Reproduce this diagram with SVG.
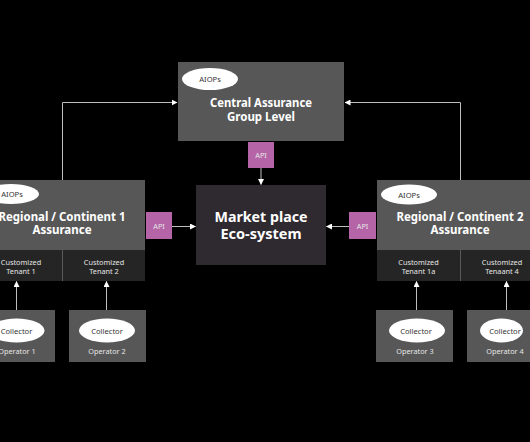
<svg xmlns="http://www.w3.org/2000/svg" width="530" height="442" viewBox="0 0 530 442">
  <style>
    .box{fill:#575757}
    .strip{fill:#252525}
    .api{fill:#b565a7}
    .ell{fill:#ffffff}
    .title{font-family:"Noto Sans","Open Sans",sans-serif;font-weight:bold;fill:#ffffff;text-anchor:middle}
    .small{font-family:"Noto Sans","Open Sans",sans-serif;fill:#e6e6e6;text-anchor:middle;font-size:7.3px}
    .dark{font-family:"Noto Sans","Open Sans",sans-serif;fill:#333333;text-anchor:middle;font-size:7.6px}
    .conn{stroke:#bdbdbd;stroke-width:1;fill:none}
  </style>
  <defs>
    <marker id="arr" markerWidth="6" markerHeight="6" refX="5.5" refY="3" orient="auto" markerUnits="userSpaceOnUse">
      <path d="M0,0 L6,3 L0,6 Z" fill="#ffffff"/>
    </marker>
  </defs>
  <rect width="530" height="442" fill="#000000"/>

  <g id="connectors">
    <polyline class="conn" points="62.5,180 62.5,102.5 177,102.5" marker-end="url(#arr)"/>
    <polyline class="conn" points="460.5,180 460.5,102.5 345,102.5" marker-end="url(#arr)"/>
    <line class="conn" x1="261" y1="168" x2="261" y2="184.5" marker-end="url(#arr)"/>
    <line class="conn" x1="172" y1="226.5" x2="195.5" y2="226.5" marker-end="url(#arr)"/>
    <line class="conn" x1="349" y1="226.5" x2="326.5" y2="226.5" marker-end="url(#arr)"/>
    <line class="conn" x1="16.5" y1="318.5" x2="16.5" y2="281.5" marker-end="url(#arr)"/>
    <line class="conn" x1="106.5" y1="318.5" x2="106.5" y2="281.5" marker-end="url(#arr)"/>
    <line class="conn" x1="416.5" y1="318.5" x2="416.5" y2="281.5" marker-end="url(#arr)"/>
    <line class="conn" x1="506.5" y1="318.5" x2="506.5" y2="281.5" marker-end="url(#arr)"/>
  </g>

  <g id="central">
    <rect class="box" x="178" y="62" width="166" height="79"/>
    <ellipse class="ell" cx="210" cy="79" rx="28" ry="11"/>
    <text class="dark" x="210" y="82">AIOPs</text>
    <text class="title" x="261" y="107" font-size="11.5" textLength="102" lengthAdjust="spacingAndGlyphs">Central Assurance</text>
    <text class="title" x="261" y="120.5" font-size="11.5">Group Level</text>
  </g>
  <g id="api-central">
    <rect class="api" x="248" y="142" width="26" height="26"/>
    <text class="small" x="261" y="158" font-size="7">API</text>
  </g>

  <g id="marketplace">
    <rect x="196" y="185" width="130" height="80" fill="#2e2a30"/>
    <text class="title" x="261" y="222" font-size="14.5" textLength="93" lengthAdjust="spacingAndGlyphs">Market place</text>
    <text class="title" x="261" y="239" font-size="14.5">Eco-system</text>
  </g>

  <g id="regional1">
    <rect class="box" x="-20" y="180" width="165" height="70"/>
    <rect class="strip" x="-20" y="250" width="165" height="31"/>
    <line x1="62.5" y1="250" x2="62.5" y2="281" stroke="#5a5a5a" stroke-width="1"/>
    <ellipse class="ell" cx="11" cy="194" rx="28" ry="10"/>
    <text class="dark" x="12" y="197">AIOPs</text>
    <text class="title" x="62" y="220.5" font-size="11.5" textLength="127" lengthAdjust="spacingAndGlyphs">Regional / Continent 1</text>
    <text class="title" x="62" y="233.5" font-size="11.5">Assurance</text>
    <text class="small" x="21" y="265">Customized</text>
    <text class="small" x="21" y="274">Tenant 1</text>
    <text class="small" x="104" y="265">Customized</text>
    <text class="small" x="104" y="274">Tenant 2</text>
  </g>
  <g id="api-left">
    <rect class="api" x="146" y="212" width="26" height="27"/>
    <text class="small" x="159" y="228.5" font-size="7">API</text>
  </g>

  <g id="regional2">
    <rect class="box" x="377" y="180" width="166" height="70"/>
    <rect class="strip" x="377" y="250" width="166" height="31"/>
    <line x1="460.5" y1="250" x2="460.5" y2="281" stroke="#5a5a5a" stroke-width="1"/>
    <ellipse class="ell" cx="409" cy="194.5" rx="28" ry="10"/>
    <text class="dark" x="409" y="197.5">AIOPs</text>
    <text class="title" x="460" y="220.5" font-size="11.5" textLength="127" lengthAdjust="spacingAndGlyphs">Regional / Continent 2</text>
    <text class="title" x="460" y="233.5" font-size="11.5">Assurance</text>
    <text class="small" x="418.5" y="265">Customized</text>
    <text class="small" x="418.5" y="274">Tenant 1a</text>
    <text class="small" x="502" y="265">Customized</text>
    <text class="small" x="502" y="274">Tenaant 4</text>
  </g>
  <g id="api-right">
    <rect class="api" x="349" y="212" width="27" height="27"/>
    <text class="small" x="362.5" y="228.5" font-size="7">API</text>
  </g>

  <g id="operator1">
    <rect class="box" x="-22" y="310" width="77" height="52"/>
    <ellipse class="ell" cx="16.5" cy="330.5" rx="28" ry="12"/>
    <text class="dark" x="16.5" y="333.5">Collector</text>
    <text class="small" x="17" y="353.5">Operator 1</text>
  </g>
  <g id="operator2">
    <rect class="box" x="69" y="310" width="77" height="52"/>
    <ellipse class="ell" cx="107" cy="330.5" rx="28" ry="12"/>
    <text class="dark" x="107" y="333.5">Collector</text>
    <text class="small" x="107" y="353.5">Operator 2</text>
  </g>
  <g id="operator3">
    <rect class="box" x="376" y="310" width="77" height="52"/>
    <ellipse class="ell" cx="417" cy="330.5" rx="28" ry="12"/>
    <text class="dark" x="416" y="333.5">Collector</text>
    <text class="small" x="415" y="353.5">Operator 3</text>
  </g>
  <g id="operator4">
    <rect class="box" x="467" y="310" width="77" height="52"/>
    <ellipse class="ell" cx="501.5" cy="330.5" rx="21.5" ry="12"/>
    <text class="dark" x="505" y="333.5">Collector</text>
    <text class="small" x="505" y="353.5">Operator 4</text>
  </g>
</svg>
